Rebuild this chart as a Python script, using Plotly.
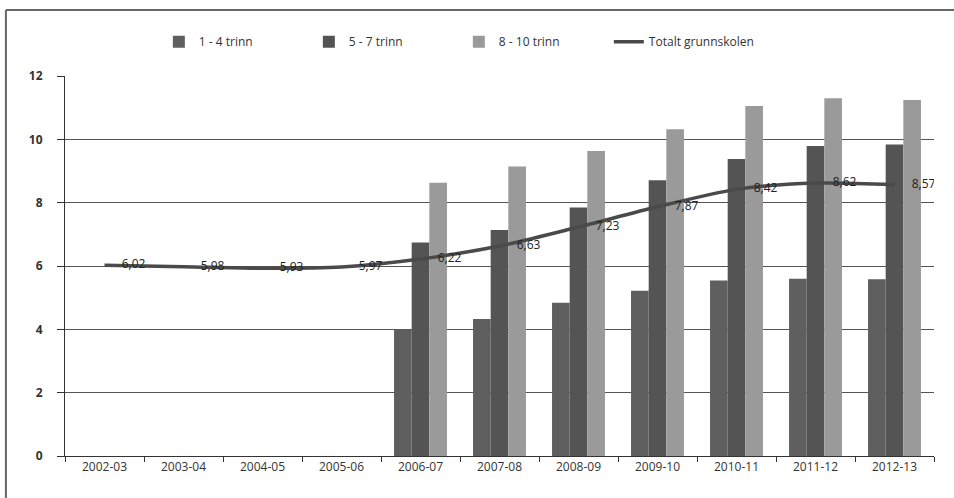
import plotly.graph_objects as go

categories = ["2002-03", "2003-04", "2004-05", "2005-06", "2006-07", "2007-08",
              "2008-09", "2009-10", "2010-11", "2011-12", "2012-13"]
trinn_1_4 = [None, None, None, None, 4.0, 4.33, 4.84, 5.22, 5.54, 5.6, 5.58]
trinn_5_7 = [None, None, None, None, 6.74, 7.14, 7.85, 8.71, 9.38, 9.79, 9.84]
trinn_8_10 = [None, None, None, None, 8.63, 9.14, 9.63, 10.32, 11.05, 11.3, 11.24]
totalt = [6.02, 5.98, 5.93, 5.97, 6.22, 6.63, 7.23, 7.87, 8.42, 8.62, 8.57]
labels = [f"{v:.2f}".replace(".", ",") for v in totalt]

font_family = "Open Sans"

fig = go.Figure()
fig.add_trace(go.Bar(x=categories, y=trinn_1_4, name="1 - 4 trinn",
                     marker=dict(color="#5f5f5f", line=dict(width=0))))
fig.add_trace(go.Bar(x=categories, y=trinn_5_7, name="5 - 7 trinn",
                     marker=dict(color="#545454", line=dict(width=0))))
fig.add_trace(go.Bar(x=categories, y=trinn_8_10, name="8 - 10 trinn",
                     marker=dict(color="#9a9a9a", line=dict(width=0))))
fig.add_trace(go.Scatter(x=categories, y=totalt, name="Totalt grunnskolen",
                         mode="lines+markers+text",
                         line=dict(color="#4a4a4a", width=3.5, shape="spline", smoothing=0.8),
                         marker=dict(size=26, color="rgba(0,0,0,0)", line=dict(width=0)),
                         text=labels, textposition="middle right",
                         textfont=dict(family=font_family, size=12, color="#222")))

fig.update_layout(
    width=954, height=498,
    margin=dict(l=65, r=20, t=76, b=42),
    paper_bgcolor="white", plot_bgcolor="white",
    barmode="group", bargap=0.33, bargroupgap=0,
    font=dict(family=font_family, size=12, color="#333"),
    showlegend=True,
    legend=dict(orientation="h", x=0.108, xanchor="left", y=1.09, yanchor="middle",
                font=dict(family=font_family, size=12, color="#333"),
                entrywidth=105, traceorder="normal", bgcolor="rgba(0,0,0,0)"),
    xaxis=dict(type="category", range=[-0.5, len(categories) - 0.5],
               showline=True, linecolor="#333", linewidth=1,
               ticks="outside", tickson="boundaries", ticklen=5, tickcolor="#333",
               showgrid=False, tickfont=dict(size=12, color="#333")),
    yaxis=dict(range=[0, 12], dtick=2, showline=True, linecolor="#333", linewidth=1,
               ticks="outside", ticklen=7, tickcolor="#333",
               showgrid=True, gridcolor="#555", gridwidth=1,
               zeroline=True, zerolinecolor="#333", zerolinewidth=1,
               tickfont=dict(size=12, color="#333", weight="bold"), ticklabelstandoff=12),
    shapes=[
        dict(type="line", xref="paper", yref="paper", x0=-0.068, x1=1.05, y0=1.174, y1=1.174,
             line=dict(color="#666", width=2), layer="below"),
        dict(type="line", xref="paper", yref="paper", x0=-0.068, x1=-0.068, y0=1.174, y1=-0.15,
             line=dict(color="#666", width=2), layer="below"),
    ],
)

fig.write_html("out.html")
